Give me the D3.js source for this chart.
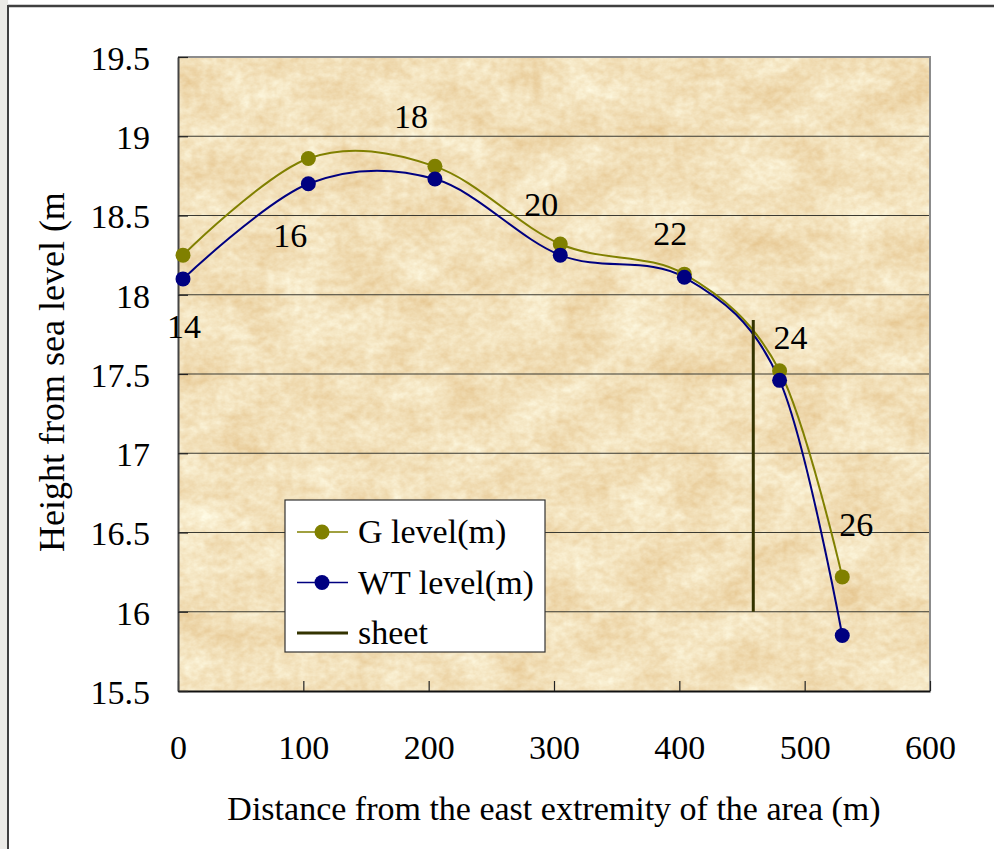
<!DOCTYPE html>
<html>
<head>
<meta charset="utf-8">
<script src="https://cdn.jsdelivr.net/npm/d3@7"></script>
<style>
  html, body { margin: 0; padding: 0; background: #ffffff; }
  svg { display: block; }
  text { font-family: "Liberation Serif", "Times New Roman", serif; fill: #000; }
</style>
</head>
<body>
<svg id="chart" width="994" height="849"></svg>
<script>
// Survey stations along the profile
const distances = [4, 104, 205, 305, 404, 480, 530];
const stationLabels = ["14", "16", "18", "20", "22", "24", "26"];
const groundLevel = [18.25, 18.86, 18.81, 18.32, 18.13, 17.52, 16.22];
const waterTableLevel = [18.10, 18.70, 18.73, 18.25, 18.11, 17.46, 15.85];

// Sheet pile position and its vertical extent
const sheetX = 459;
const sheetLevels = [16.0, 17.84];

// Axis ticks
const xTicks = [0, 100, 200, 300, 400, 500, 600];
const yTicks = [15.5, 16, 16.5, 17, 17.5, 18, 18.5, 19, 19.5];

const seriesNames = ["G level(m)", "WT level(m)", "sheet"];

// Pixel offsets of the station labels from the ground-level marker
const labelOffsets = [[1, 71], [-18, 77], [-24, -50], [-19, -40], [-14, -41], [11, -34], [14, -53]];

const svg = d3.select("#chart");
const W = 994, H = 849;
const plot = { left: 178, top: 57, right: 930, bottom: 691 };
const FONT = 34;

const x = d3.scaleLinear().domain([0, 600]).range([plot.left, plot.right]);
const y = d3.scaleLinear().domain([15.5, 19.5]).range([plot.bottom, plot.top]);

const defs = svg.append("defs");

// Parchment texture: coarse mottling plus fine grain, mapped to pale warm tan tones
const f = defs.append("filter").attr("id", "parchment")
  .attr("x", 0).attr("y", 0).attr("width", "100%").attr("height", "100%")
  .attr("color-interpolation-filters", "sRGB");
f.append("feTurbulence").attr("type", "fractalNoise")
  .attr("baseFrequency", "0.018 0.026").attr("numOctaves", 4).attr("seed", 7).attr("result", "coarse");
f.append("feColorMatrix").attr("in", "coarse").attr("type", "matrix")
  .attr("values", "1 0 0 0 0  1 0 0 0 0  1 0 0 0 0  0 0 0 0 1").attr("result", "c1");
f.append("feTurbulence").attr("type", "fractalNoise")
  .attr("baseFrequency", "0.12 0.15").attr("numOctaves", 3).attr("seed", 11).attr("result", "fine");
f.append("feColorMatrix").attr("in", "fine").attr("type", "matrix")
  .attr("values", "1 0 0 0 0  1 0 0 0 0  1 0 0 0 0  0 0 0 0 1").attr("result", "f1");
f.append("feComposite").attr("in", "c1").attr("in2", "f1").attr("operator", "arithmetic")
  .attr("k1", 0).attr("k2", 0.6).attr("k3", 0.4).attr("k4", 0).attr("result", "mix");
f.append("feColorMatrix").attr("in", "mix").attr("type", "matrix")
  .attr("values", "0.14 0 0 0 0.88  0.30 0 0 0 0.73  0.48 0 0 0 0.49  0 0 0 0 1");

defs.append("clipPath").attr("id", "ylabelClip")
  .append("rect").attr("x", 0).attr("y", 193).attr("width", 120).attr("height", 500);

// Page frame
svg.append("rect").attr("x", 0).attr("y", 0).attr("width", 8).attr("height", H).attr("fill", "#ecebe7");
svg.append("line").attr("x1", 8).attr("x2", W).attr("y1", 6).attr("y2", 6)
  .attr("stroke", "#404040").attr("stroke-width", 2.5);
svg.append("line").attr("x1", 8).attr("x2", 8).attr("y1", 5).attr("y2", H)
  .attr("stroke", "#404040").attr("stroke-width", 2);

// Plot background
svg.append("rect")
  .attr("x", plot.left).attr("y", plot.top)
  .attr("width", plot.right - plot.left).attr("height", plot.bottom - plot.top)
  .attr("fill", "#efdfba").attr("filter", "url(#parchment)");

// Horizontal gridlines
svg.append("g").selectAll("line")
  .data(yTicks.filter(t => t > 15.5 && t < 19.5))
  .join("line")
  .attr("x1", plot.left).attr("x2", plot.right)
  .attr("y1", d => y(d)).attr("y2", d => y(d))
  .attr("stroke", "#3a3a32").attr("stroke-width", 1.2);

// Top and right borders
svg.append("path")
  .attr("d", `M${plot.left},${plot.top}H${plot.right}V${plot.bottom}`)
  .attr("fill", "none").attr("stroke", "#8c8c8c").attr("stroke-width", 2);

// Axes
const xAxis = d3.axisBottom(x).tickValues(xTicks).tickSizeInner(-10).tickSizeOuter(0)
  .tickPadding(44).tickFormat(d => String(d));
const yAxis = d3.axisLeft(y).tickValues(yTicks).tickSizeInner(-10).tickSizeOuter(0)
  .tickPadding(28).tickFormat(d => String(d));

const gx = svg.append("g").attr("transform", `translate(0,${plot.bottom})`).call(xAxis);
const gy = svg.append("g").attr("transform", `translate(${plot.left},0)`).call(yAxis);

[gx, gy].forEach(g => {
  g.selectAll("text").style("font-family", "'Liberation Serif', serif").style("font-size", FONT + "px").attr("fill", "#000");
  g.selectAll(".tick line").attr("stroke", "#222").attr("stroke-width", 1.2);
});
gx.select(".domain").attr("stroke", "#111").attr("stroke-width", 2);
gy.select(".domain").attr("stroke", "#444").attr("stroke-width", 2);
gy.selectAll("text").attr("dy", "0.36em");

// Axis titles
svg.append("text")
  .attr("x", 554).attr("y", 820)
  .attr("text-anchor", "middle").style("font-size", FONT + "px")
  .text("Distance from the east extremity of the area (m)");

svg.append("g").attr("clip-path", "url(#ylabelClip)")
  .append("text")
  .attr("transform", "translate(64,552) rotate(-90)")
  .attr("text-anchor", "start").style("font-size", "36px")
  .text("Height from sea level (m)");

// Smoothed series lines
const curve = d3.curveCardinal.tension(0);
const line = d3.line().x(d => x(d[0])).y(d => y(d[1])).curve(curve);

const gPts = distances.map((d, i) => [d, groundLevel[i]]);
const wPts = distances.map((d, i) => [d, waterTableLevel[i]]);

svg.append("path").datum(gPts).attr("d", line)
  .attr("fill", "none").attr("stroke", "#808000").attr("stroke-width", 2);
svg.append("path").datum(wPts).attr("d", line)
  .attr("fill", "none").attr("stroke", "#000080").attr("stroke-width", 2);

// Sheet pile
svg.append("line")
  .attr("x1", x(sheetX)).attr("x2", x(sheetX))
  .attr("y1", y(sheetLevels[0])).attr("y2", y(sheetLevels[1]))
  .attr("stroke", "#333300").attr("stroke-width", 3);

// Markers
svg.append("g").selectAll("circle").data(gPts).join("circle")
  .attr("cx", d => x(d[0])).attr("cy", d => y(d[1])).attr("r", 7.5).attr("fill", "#808000");
svg.append("g").selectAll("circle").data(wPts).join("circle")
  .attr("cx", d => x(d[0])).attr("cy", d => y(d[1])).attr("r", 7.5).attr("fill", "#000080");

// Station labels
svg.append("g").selectAll("text").data(gPts).join("text")
  .attr("x", (d, i) => x(d[0]) + labelOffsets[i][0])
  .attr("y", (d, i) => y(d[1]) + labelOffsets[i][1])
  .attr("dy", "0.35em")
  .attr("text-anchor", "middle").style("font-size", FONT + "px")
  .text((d, i) => stationLabels[i]);

// Legend
const legend = svg.append("g").attr("transform", "translate(285,500)");
legend.append("rect").attr("width", 260).attr("height", 152)
  .attr("fill", "#ffffff").attr("stroke", "#333").attr("stroke-width", 1.2);
const legendColors = ["#808000", "#000080", "#333300"];
seriesNames.forEach((name, i) => {
  const cy = 32 + i * 50.5;
  const item = legend.append("g").attr("transform", `translate(0,${cy})`);
  item.append("line").attr("x1", 12).attr("x2", 63).attr("y1", 0).attr("y2", 0)
    .attr("stroke", legendColors[i]).attr("stroke-width", i === 2 ? 3 : 1.5);
  if (i < 2) {
    item.append("circle").attr("cx", 37).attr("cy", 0).attr("r", 7.5).attr("fill", legendColors[i]);
  }
  item.append("text").attr("x", 73).attr("y", 0).attr("dy", "0.33em")
    .style("font-size", FONT + "px").text(name);
});
</script>
</body>
</html>
